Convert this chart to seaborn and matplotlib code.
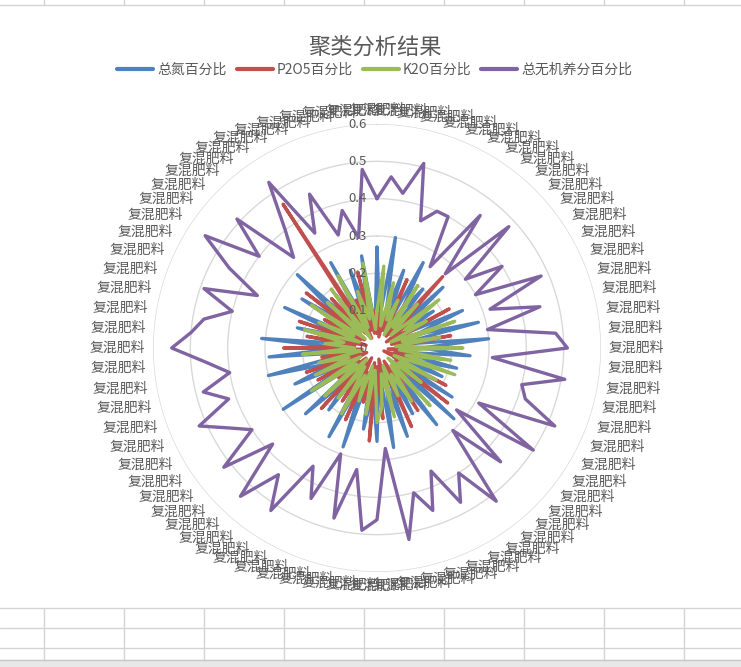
import numpy as np
import pandas as pd
import matplotlib
matplotlib.use("Agg")
import matplotlib.pyplot as plt
import seaborn as sns
from matplotlib.transforms import ScaledTranslation
from matplotlib.lines import Line2D

# ---------------- data ----------------
categories = ["复混肥料"] * 76

total_n = [0.27, 0.08, 0.30, 0.10, 0.22, 0.06, 0.26, 0.12, 0.20, 0.05,
           0.24, 0.09, 0.18, 0.07, 0.25, 0.11, 0.28, 0.06, 0.30, 0.12,
           0.25, 0.07, 0.22, 0.10, 0.19, 0.05, 0.24, 0.08, 0.28, 0.06,
           0.26, 0.09, 0.20, 0.05, 0.25, 0.10, 0.27, 0.06, 0.25, 0.12,
           0.22, 0.07, 0.28, 0.09, 0.27, 0.05, 0.21, 0.11, 0.26, 0.06,
           0.30, 0.08, 0.24, 0.12, 0.30, 0.07, 0.29, 0.10, 0.31, 0.06,
           0.22, 0.09, 0.27, 0.05, 0.24, 0.11, 0.29, 0.07, 0.18, 0.04,
           0.26, 0.08, 0.22, 0.10, 0.25, 0.06]

p2o5 = [0.04, 0.12, 0.03, 0.15, 0.05, 0.20, 0.06, 0.17, 0.04, 0.26,
        0.08, 0.18, 0.03, 0.22, 0.05, 0.15, 0.04, 0.20, 0.06, 0.12,
        0.03, 0.18, 0.05, 0.14, 0.02, 0.21, 0.06, 0.24, 0.05, 0.16,
        0.08, 0.20, 0.04, 0.23, 0.06, 0.14, 0.03, 0.19, 0.05, 0.25,
        0.04, 0.15, 0.07, 0.21, 0.03, 0.17, 0.05, 0.22, 0.04, 0.13,
        0.06, 0.18, 0.03, 0.20, 0.05, 0.15, 0.04, 0.25, 0.06, 0.19,
        0.03, 0.22, 0.05, 0.16, 0.04, 0.24, 0.06, 0.18, 0.05, 0.46,
        0.03, 0.14, 0.05, 0.21, 0.04, 0.10]

k2o = [0.10, 0.22, 0.06, 0.18, 0.08, 0.14, 0.04, 0.20, 0.07, 0.16,
       0.05, 0.21, 0.09, 0.15, 0.04, 0.22, 0.07, 0.17, 0.05, 0.23,
       0.06, 0.20, 0.08, 0.22, 0.05, 0.18, 0.07, 0.15, 0.04, 0.21,
       0.06, 0.17, 0.08, 0.14, 0.05, 0.19, 0.07, 0.16, 0.20, 0.06,
       0.18, 0.05, 0.15, 0.08, 0.20, 0.06, 0.17, 0.04, 0.19, 0.07,
       0.21, 0.05, 0.18, 0.08, 0.16, 0.04, 0.20, 0.06, 0.14, 0.09,
       0.20, 0.05, 0.17, 0.07, 0.21, 0.04, 0.18, 0.06, 0.20, 0.03,
       0.22, 0.06, 0.16, 0.08, 0.23, 0.05]

total_nutrient = [0.40, 0.46, 0.42, 0.51, 0.36, 0.40, 0.40, 0.26, 0.45, 0.27,
                  0.48, 0.30, 0.40, 0.30, 0.48, 0.32, 0.45, 0.30, 0.48, 0.51,
                  0.31, 0.51, 0.40, 0.42, 0.52, 0.31, 0.50, 0.27, 0.45, 0.30,
                  0.52, 0.40, 0.47, 0.36, 0.46, 0.40, 0.52, 0.27, 0.46, 0.49,
                  0.33, 0.47, 0.30, 0.44, 0.36, 0.52, 0.43, 0.54, 0.38, 0.52,
                  0.40, 0.45, 0.52, 0.42, 0.48, 0.40, 0.46, 0.55, 0.50, 0.47,
                  0.40, 0.49, 0.35, 0.45, 0.55, 0.40, 0.51, 0.33, 0.40, 0.53,
                  0.35, 0.45, 0.32, 0.38, 0.30, 0.48]

series_names = ["总氮百分比", "P2O5百分比", "K2O百分比", "总无机养分百分比"]
series_values = [total_n, p2o5, k2o, total_nutrient]
series_colors = ["#4F81BD", "#C0504D", "#9BBB59", "#8064A2"]

r_ticks = [0.1, 0.2, 0.3, 0.4, 0.5, 0.6]
r_tick_labels = ["0", "0.1", "0.2", "0.3", "0.4", "0.5", "0.6"]
r_label_values = [0.0, 0.1, 0.2, 0.3, 0.4, 0.5, 0.6]
title = "聚类分析结果"

# ---------------- style ----------------
sns.set_theme(style="white")
plt.rcParams["font.family"] = ["Noto Sans CJK SC", "DejaVu Sans"]
text_color = "#595959"

W, H = 741, 667
fig = plt.figure(figsize=(W / 100, H / 100), dpi=100)
fig.patch.set_facecolor("white")

cx, cy, R = 377, 348, 224
ax = fig.add_axes([(cx - R) / W, (H - cy - R) / H, 2 * R / W, 2 * R / H],
                  projection="polar")

n = len(categories)
theta = np.linspace(0, 2 * np.pi, n, endpoint=False)
theta_closed = np.append(theta, 2 * np.pi)

rows = []
for name, vals in zip(series_names, series_values):
    closed = list(vals) + [vals[0]]
    for t, v in zip(theta_closed, closed):
        rows.append({"theta": t, "value": v, "series": name})
df = pd.DataFrame(rows)

sns.lineplot(data=df, x="theta", y="value", hue="series",
             hue_order=series_names, palette=series_colors,
             sort=False, estimator=None, linewidth=2.4, legend=False, ax=ax)

ax.set_theta_zero_location("N")
ax.set_theta_direction(-1)
ax.set_ylim(0, 0.6)
ax.set_yticks(r_ticks)
ax.set_yticklabels([])
ax.set_xticks([])
ax.yaxis.grid(True, color="#d9d9d9", linewidth=1.0)
ax.xaxis.grid(False)
ax.spines["polar"].set_visible(False)
ax.set_xlabel("")
ax.set_ylabel("")
ax.set_facecolor("white")

# value axis labels
for v, lab in zip(r_label_values, r_tick_labels):
    ax.text(0, v, lab, ha="right", va="center", fontsize=9.5, color=text_color,
            transform=ax.transData + ScaledTranslation(-0.10, 0, fig.dpi_scale_trans),
            zorder=6, clip_on=False)

# category labels
w_px, h_px, gap = 57, 14, 7
for t, lab in zip(theta, categories):
    s, c = np.sin(t), np.cos(t)
    dx = gap * s + (w_px / 2) * np.clip(2 * s, -1, 1)
    dy = gap * c + (h_px / 2) * np.clip(2 * c, -1, 1)
    ax.text(t, 0.6, lab, ha="center", va="center", fontsize=10, color=text_color,
            transform=ax.transData + ScaledTranslation(dx / 100, dy / 100, fig.dpi_scale_trans),
            clip_on=False)

# title and legend
fig.text(0.506, 1 - 47 / H, title, ha="center", va="center",
         fontsize=16, color=text_color)
handles = [Line2D([0], [0], color=c, lw=3) for c in series_colors]
leg = fig.legend(handles, series_names, loc="center", ncol=4,
                 bbox_to_anchor=(0.506, 1 - 70 / H), frameon=False,
                 fontsize=10, handlelength=2.6, handletextpad=0.3,
                 columnspacing=0.7)
for txt in leg.get_texts():
    txt.set_color(text_color)

# spreadsheet cell grid around the chart
grid_c = "#d4d4d4"
def fline(x0, y0, x1, y1, color=grid_c, lw=1.0):
    fig.add_artist(Line2D([x0 / W, x1 / W], [1 - y0 / H, 1 - y1 / H],
                          transform=fig.transFigure, color=color, lw=lw))

col_x = [44, 124, 204, 284, 364, 444, 524, 604, 684]
fline(0, 5, W, 5)
for x in col_x:
    fline(x, 0, x, 5)
for y in [608, 628, 648]:
    fline(0, y, W, y)
for x in col_x:
    fline(x, 608, x, 660)
fig.add_artist(plt.Rectangle((0, 0), 1, 7 / H, transform=fig.transFigure,
                             color="#e8e8e8", zorder=0))
fline(0, 660, W, 660, color="#c8c8c8")

fig.savefig("out.png", dpi=100, facecolor="white")
